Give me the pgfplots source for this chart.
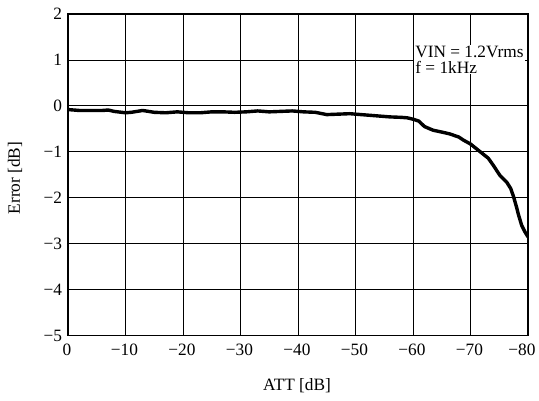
\documentclass[border=0pt]{standalone}
\usepackage{fontspec}
\setmainfont{Liberation Serif}
\usepackage{pgfplots}
\pgfplotsset{compat=1.18}
\begin{document}
\fontsize{17.3}{19.5}\selectfont
\begin{tikzpicture}
% fixed page box: 539 x 401, axis box corner at (0,0)
\path[use as bounding box] (-68pt,-65.4pt) rectangle (471pt,335.6pt);
\begin{axis}[
  at={(0,0)}, anchor=south west,
  scale only axis, width=460pt, height=321.6pt,
  xmin=-80, xmax=0, x dir=reverse,
  ymin=-5, ymax=2,
  xtick={0,-10,-20,-30,-40,-50,-60,-70},
  xticklabels={0,−10,−20,−30,−40,−50,−60,−70},
  extra x ticks={-80},
  extra x tick labels={−80},
  extra x tick style={xticklabel style={anchor=north east, xshift=14.5pt}},
  ytick={-5,-4,-3,-2,-1,0,1,2},
  yticklabels={−5,−4,−3,−2,−1,0,1,2},
  major tick length=0pt,
  grid=major,
  major grid style={black, line width=0.8pt},
  axis line style={black, line width=1.3pt},
  xticklabel style={yshift=-2pt, xshift=-1pt},
  xlabel={ATT [dB]}, ylabel={Error [dB]},
  every axis x label/.style={at={(axis description cs:0.498,-0.157)}, anchor=center},
  every axis y label/.style={at={(axis description cs:-0.115,0.49)}, anchor=center, rotate=90},
]
\addplot[black, line width=3.4pt, line join=round, line cap=round] coordinates {
 (0,-0.08) (-2,-0.10) (-4,-0.10) (-6,-0.10) (-7,-0.09) (-8,-0.12)
 (-10,-0.15) (-11,-0.14) (-13,-0.10) (-15,-0.14) (-17,-0.15) (-19,-0.13)
 (-21,-0.15) (-23,-0.15) (-25,-0.13) (-27,-0.13) (-29,-0.14) (-31,-0.13)
 (-33,-0.11) (-35,-0.13) (-37,-0.12) (-39,-0.11) (-41,-0.13) (-43,-0.14)
 (-45,-0.19) (-47,-0.18) (-49,-0.17) (-50,-0.18) (-52,-0.20) (-54,-0.22)
 (-56,-0.24) (-58,-0.25) (-59,-0.26) (-60,-0.29) (-61,-0.33) (-62,-0.45)
 (-63.5,-0.53) (-65,-0.57) (-66.4,-0.61) (-68,-0.68) (-68.7,-0.74) (-70,-0.83)
 (-71.7,-1.00) (-73.1,-1.14) (-74,-1.30) (-75.1,-1.51) (-76.3,-1.66) (-77,-1.80)
 (-77.5,-1.98) (-78,-2.20) (-78.3,-2.35) (-78.9,-2.60) (-79.5,-2.75) (-80,-2.85)
};
\node[fill=white, inner xsep=1pt, inner ysep=0.5pt, anchor=north west, align=left,
      font=\fontsize{17.3}{16.3}\selectfont]
  at (axis cs:-60.2,1.32) {VIN = 1.2Vrms\\f = 1kHz};
\end{axis}
\end{tikzpicture}
\end{document}
